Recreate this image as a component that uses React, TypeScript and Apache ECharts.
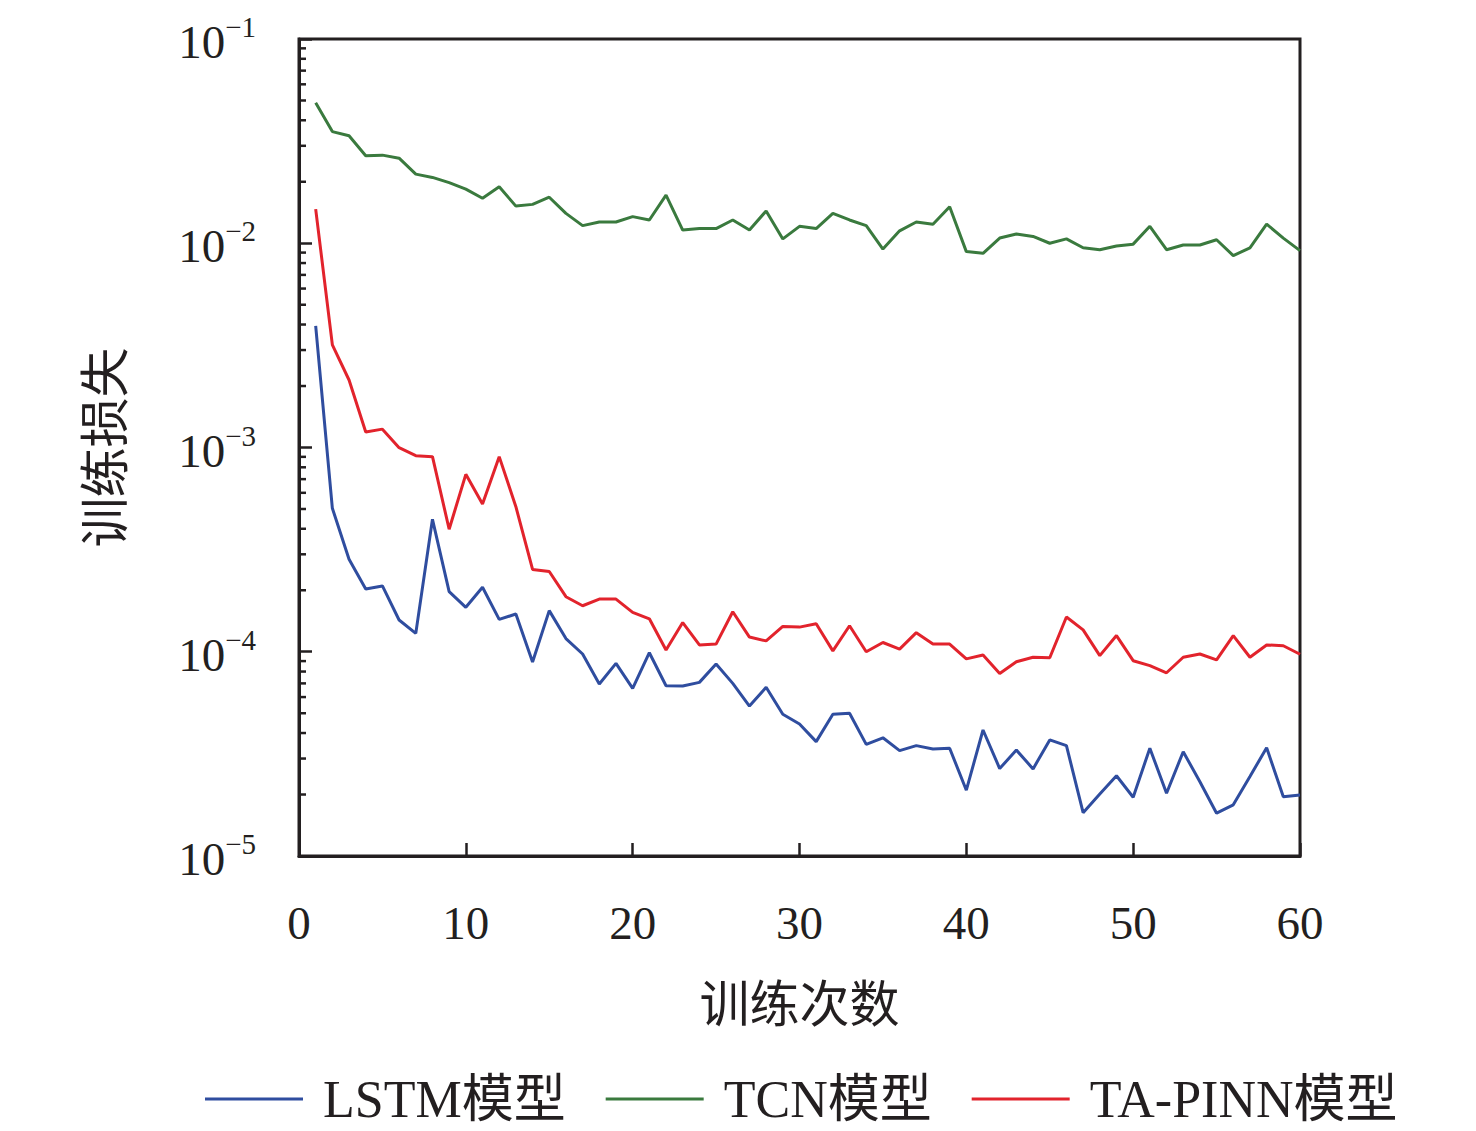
import React, { useEffect, useRef } from 'react'
import * as echarts from 'echarts'

const epochs = [
  1, 2, 3, 4, 5, 6, 7, 8, 9, 10, 11, 12, 13, 14, 15, 16, 17, 18, 19, 20,
  21, 22, 23, 24, 25, 26, 27, 28, 29, 30, 31, 32, 33, 34, 35, 36, 37, 38, 39, 40,
  41, 42, 43, 44, 45, 46, 47, 48, 49, 50, 51, 52, 53, 54, 55, 56, 57, 58, 59, 60,
]

const lstmLoss = [
  0.00394, 0.000504, 0.000284, 0.000203, 0.00021, 0.000143, 0.000123, 0.000445, 0.000197, 0.000165,
  0.000207, 0.000144, 0.000153, 0.0000891, 0.000159, 0.000116, 0.0000975, 0.0000695, 0.0000877, 0.0000662,
  0.0000989, 0.0000682, 0.000068, 0.0000708, 0.0000871, 0.00007, 0.0000542, 0.000067, 0.0000494, 0.0000443,
  0.0000363, 0.0000494, 0.00005, 0.0000352, 0.0000379, 0.0000328, 0.0000347, 0.0000334, 0.0000337, 0.000021,
  0.0000414, 0.0000268, 0.000033, 0.0000267, 0.000037, 0.0000347, 0.0000163, 0.0000201, 0.0000247, 0.0000194,
  0.0000337, 0.0000203, 0.0000324, 0.0000231, 0.0000162, 0.0000178, 0.0000245, 0.0000339, 0.0000195, 0.0000199,
]

const tcnLoss = [
  0.0488, 0.0352, 0.0336, 0.0268, 0.027, 0.0261, 0.0218, 0.021, 0.0198, 0.0184,
  0.0166, 0.0189, 0.0152, 0.0155, 0.0168, 0.014, 0.0122, 0.0127, 0.0127, 0.0135,
  0.013, 0.0172, 0.0116, 0.0118, 0.0118, 0.013, 0.0116, 0.0144, 0.0105, 0.0121,
  0.0118, 0.014, 0.013, 0.0122, 0.00937, 0.0115, 0.0127, 0.0124, 0.0151, 0.0091,
  0.00893, 0.0106, 0.0111, 0.0108, 0.01, 0.0105, 0.0095, 0.0093, 0.0097, 0.0099,
  0.0121, 0.0093, 0.0098, 0.0098, 0.0104, 0.0087, 0.0095, 0.0124, 0.0106, 0.0092,
]

const tapinnLoss = [
  0.0147, 0.00318, 0.00214, 0.00119, 0.00123, 0.000998, 0.000912, 0.000902, 0.000398, 0.000739,
  0.000529, 0.000902, 0.000513, 0.000253, 0.000247, 0.000186, 0.000168, 0.000181, 0.000181, 0.000156,
  0.000145, 0.000102, 0.000139, 0.000108, 0.000109, 0.000157, 0.000118, 0.000113, 0.000133, 0.000132,
  0.000137, 0.000101, 0.000134, 0.0001, 0.000111, 0.000103, 0.000124, 0.000109, 0.000109, 0.0000923,
  0.0000964, 0.0000783, 0.0000894, 0.000094, 0.0000935, 0.000148, 0.000128, 0.0000957, 0.00012, 0.0000904,
  0.0000855, 0.0000789, 0.000094, 0.0000975, 0.0000912, 0.00012, 0.000094, 0.000108, 0.000107, 0.0000972,
]

const seriesNames = ['LSTM模型', 'TCN模型', 'TA-PINN模型']
const seriesColors = ['#2f4d9f', '#3a7a3e', '#e2232c']

// minor ticks of the log axis: 2..9 within each decade
const minorMultipliers = [2, 3, 4, 5, 6, 7, 8, 9]
const decades = [1e-5, 1e-4, 1e-3, 1e-2]

const INK = '#231f20'
const LATIN = '"Liberation Serif", "Times New Roman", "Noto Sans CJK SC", serif'

export default function App() {
  const ref = useRef<HTMLDivElement>(null)

  useEffect(() => {
    if (!ref.current) return
    const chart = echarts.init(ref.current, null, { renderer: 'svg' })

    const pairs = (vals: number[]) => vals.map((v, i) => [epochs[i], v])
    const minorTicks: number[][] = []
    decades.forEach(d => minorMultipliers.forEach(m => minorTicks.push([0, d * m])))

    chart.setOption({
      animation: false,
      backgroundColor: '#fff',
      grid: {
        left: 299,
        right: 176,
        top: 39,
        bottom: 275,
        show: true,
        borderColor: INK,
        borderWidth: 3,
        backgroundColor: 'transparent',
      },
      legend: {
        data: seriesNames,
        icon: 'rect',
        left: 200,
        top: 1068,
        itemWidth: 98,
        itemHeight: 3,
        itemGap: 40,
        textStyle: {
          fontFamily: LATIN,
          fontSize: 52,
          color: INK,
          padding: [0, 0, 0, 15],
        },
      },
      xAxis: {
        type: 'value',
        min: 0,
        max: 60,
        interval: 10,
        name: '训练次数',
        nameLocation: 'middle',
        nameGap: 124,
        nameTextStyle: { fontFamily: LATIN, fontSize: 50, color: INK },
        axisLine: { lineStyle: { color: INK, width: 3 } },
        axisTick: { inside: true, length: 13, lineStyle: { color: INK, width: 2.5 } },
        axisLabel: { fontFamily: LATIN, fontSize: 47, color: INK, margin: 43 },
        splitLine: { show: false },
      },
      yAxis: {
        type: 'log',
        logBase: 10,
        min: 1e-5,
        max: 1e-1,
        name: '训练损失',
        nameLocation: 'middle',
        nameGap: 168,
        nameTextStyle: { fontFamily: LATIN, fontSize: 50, color: INK },
        axisLine: { lineStyle: { color: INK, width: 3 } },
        axisTick: { inside: true, length: 13, lineStyle: { color: INK, width: 2.5 } },
        axisLabel: {
          margin: 43,
          formatter: (v: number) => {
            const e = Math.round(Math.log10(v))
            return `{b|10}{s|−${-e}}`
          },
          rich: {
            b: { fontFamily: LATIN, fontSize: 47, color: INK, padding: [6, 0, 0, 0] },
            s: { fontFamily: LATIN, fontSize: 29, color: INK, verticalAlign: 'top' },
          },
        },
        splitLine: { show: false },
      },
      series: [
        ...[lstmLoss, tcnLoss, tapinnLoss].map((vals, k) => ({
          name: seriesNames[k],
          type: 'line',
          data: pairs(vals),
          symbol: 'none',
          color: seriesColors[k],
          lineStyle: { color: seriesColors[k], width: 3 },
          z: 3 + k,
        })),
        {
          type: 'custom',
          silent: true,
          clip: false,
          data: minorTicks,
          renderItem: (_p: unknown, api: any) => {
            const pt = api.coord([api.value(0), api.value(1)])
            return {
              type: 'line',
              shape: { x1: pt[0], y1: pt[1], x2: pt[0] + 7, y2: pt[1] },
              style: { stroke: INK, lineWidth: 2.5 },
            }
          },
        },
      ],
    })

    return () => chart.dispose()
  }, [])

  return (
    <div
      ref={ref}
      style={{ position: 'absolute', left: 0, top: 0, width: 1476, height: 1131 }}
    />
  )
}
